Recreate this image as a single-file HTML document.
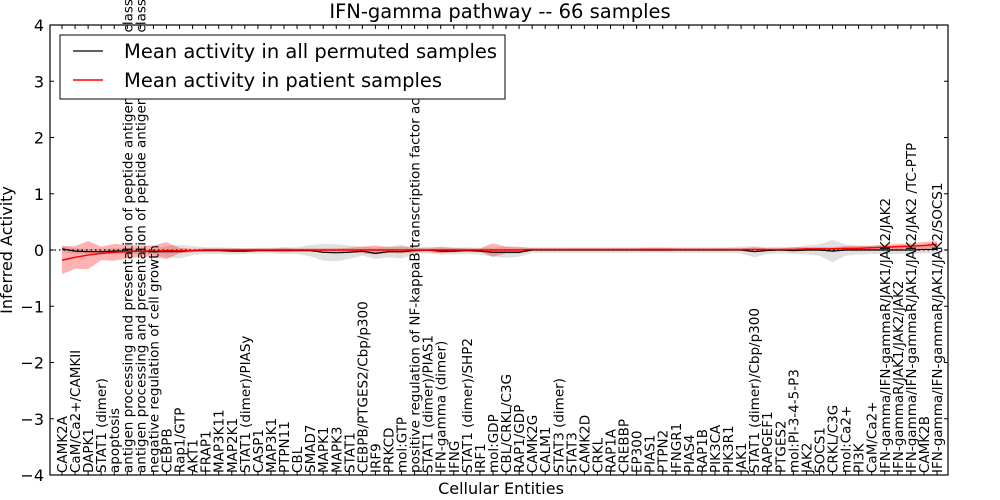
<!DOCTYPE html>
<html><head><meta charset="utf-8"><style>
html,body{margin:0;padding:0;background:#fff;}
svg{display:block;font-family:"DejaVu Sans","Liberation Sans",sans-serif;}
</style></head><body>
<svg id="chart" width="1000" height="500" viewBox="0 0 1000 500">
<text x="500" y="18" text-anchor="middle" font-size="19.5">IFN-gamma pathway -- 66 samples</text>
<text x="501" y="494" text-anchor="middle" font-size="16">Cellular Entities</text>
<text transform="translate(12,250) rotate(-90)" text-anchor="middle" font-size="16">Inferred Activity</text>
<g id="plot"></g>
</svg>
<script>
const labels=["CAMK2A","CaM/Ca2+/CAMKII","DAPK1","STAT1 (dimer)","apoptosis","antigen processing and presentation of peptide antigen via MHC class I","antigen processing and presentation of peptide antigen via MHC class II","negative regulation of cell growth","CEBPB","Rap1/GTP","AKT1","FRAP1","MAP3K11","MAP2K1","STAT1 (dimer)/PIASy","CASP1","MAP3K1","PTPN11","CBL","SMAD7","MAPK1","MAPK3","STAT1","CEBPB/PTGES2/Cbp/p300","IRF9","PRKCD","mol:GTP","positive regulation of NF-kappaB transcription factor activity","STAT1 (dimer)/PIAS1","IFN-gamma (dimer)","IFNG","STAT1 (dimer)/SHP2","IRF1","mol:GDP","CBL/CRKL/C3G","RAP1/GDP","CAMK2G","CALM1","STAT3 (dimer)","STAT3","CAMK2D","CRKL","RAP1A","CREBBP","EP300","PIAS1","PTPN2","IFNGR1","PIAS4","RAP1B","PIK3CA","PIK3R1","JAK1","STAT1 (dimer)/Cbp/p300","RAPGEF1","PTGES2","mol:PI-3-4-5-P3","JAK2","SOCS1","CRKL/C3G","mol:Ca2+","PI3K","CaM/Ca2+","IFN-gamma/IFN-gammaR/JAK1/JAK2/JAK2","IFN-gammaR/JAK1/JAK2/JAK2","IFN-gamma/IFN-gammaR/JAK1/JAK2/JAK2  /TC-PTP","CAMK2B","IFN-gamma/IFN-gammaR/JAK1/JAK2/SOCS1"];
const patientMean=[-0.18,-0.13,-0.09,-0.06,-0.04,-0.03,-0.02,-0.02,-0.01,-0.01,-0.01,0,0,0,0,0,0,0,0,0,0,0,0,0,0,0,0,0,0,0,0,0,0,0,0,0,0.01,0.01,0.01,0.01,0.01,0.01,0.01,0.01,0.01,0.01,0.01,0.01,0.01,0.01,0.01,0.01,0.01,0.01,0.01,0.01,0.01,0.02,0.02,0.02,0.03,0.03,0.04,0.05,0.06,0.07,0.08,0.1];
const patientBand=[0.25,0.2,0.25,0.12,0.15,0.12,0.1,0.1,0.15,0.05,0.03,0.03,0.03,0.03,0.03,0.03,0.03,0.04,0.03,0.03,0.03,0.03,0.04,0.06,0.08,0.05,0.06,0.04,0.03,0.06,0.04,0.03,0.03,0.12,0.06,0.06,0.02,0.02,0.02,0.02,0.02,0.02,0.02,0.02,0.02,0.03,0.03,0.02,0.02,0.02,0.02,0.02,0.02,0.04,0.02,0.02,0.04,0.03,0.03,0.03,0.04,0.04,0.04,0.05,0.05,0.05,0.06,0.06];
const permMean=[0.02,-0.02,-0.03,-0.03,-0.02,-0.02,-0.02,-0.03,-0.03,-0.03,-0.01,-0.01,-0.01,-0.02,-0.02,-0.01,-0.01,-0.01,-0.01,-0.01,-0.04,-0.05,-0.04,-0.02,-0.06,-0.03,-0.03,-0.01,0,-0.02,-0.02,-0.01,-0.02,-0.04,-0.04,-0.04,0,0,0,0,0,0,0,0,0,0,0,0,0,0,0,0,0,-0.03,-0.01,0,-0.01,0,0,-0.02,0,0,0,0,0,0,0.01,0.01];
const permBand=[0.06,0.05,0.05,0.05,0.05,0.05,0.05,0.05,0.1,0.12,0.08,0.06,0.06,0.06,0.05,0.05,0.05,0.06,0.06,0.1,0.15,0.15,0.12,0.08,0.1,0.1,0.12,0.06,0.06,0.06,0.06,0.06,0.06,0.08,0.1,0.08,0.05,0.05,0.05,0.05,0.05,0.05,0.05,0.05,0.05,0.05,0.05,0.05,0.05,0.05,0.05,0.05,0.06,0.1,0.06,0.06,0.06,0.08,0.1,0.2,0.1,0.08,0.07,0.07,0.07,0.07,0.07,0.07];
const yTicks=[4,3,2,1,0,-1,-2,-3,-4];
const tickLabels=["4","3","2","1","0","\u22121","\u22122","\u22123","\u22124"];

const L=50,R=948,T=25,B=475;
const X0=62,DX=(937-62)/(labels.length-1);
const xs=i=>X0+i*DX;
const ys=v=>250-v*(B-T)/8;
const NS="http://www.w3.org/2000/svg";
const g=document.getElementById('plot');
function mk(tag,attrs){const e=document.createElementNS(NS,tag);for(const k in attrs)e.setAttribute(k,attrs[k]);g.appendChild(e);return e;}
function band(mean,half){let up=mean.map((m,i)=>xs(i)+','+ys(m+half[i]));let dn=mean.map((m,i)=>xs(i)+','+ys(m-half[i])).reverse();return up.concat(dn).join(' ');}
function line(mean){return mean.map((m,i)=>xs(i)+','+ys(m)).join(' ');}

let e;
e=mk('polygon',{points:band(permMean,permBand),fill:'#bbbbbb','fill-opacity':'0.45',stroke:'none'});


e=mk('polygon',{points:band(patientMean,patientBand),fill:'#ff0000','fill-opacity':'0.3',stroke:'none'});


e=mk('line',{x1:L,x2:R,y1:ys(0),y2:ys(0),stroke:'#000','stroke-dasharray':'1.5,3','stroke-width':1.2});


e=mk('polyline',{points:line(permMean),fill:'none',stroke:'#000','stroke-width':1.2});


e=mk('polyline',{points:line(patientMean),fill:'none',stroke:'#ff0000','stroke-width':1.5});



labels.forEach((t,i)=>{
  const x=xs(i);
  const tk=mk('line',{x1:x,x2:x,y1:T,y2:T+4,stroke:'#000'});
  
  
  const tb=mk('line',{x1:x,x2:x,y1:B,y2:B-4,stroke:'#000'});
  
  
  const tx=mk('text',{transform:`translate(${x+5},${B-2}) rotate(-90)`,'font-size':'13.5'});
  tx.textContent=t;
  
  
});
yTicks.forEach((v,i)=>{
  const y=ys(v);
  const a=mk('line',{x1:L,x2:L+4,y1:y,y2:y,stroke:'#000'});
  
  
  const b=mk('line',{x1:R,x2:R-4,y1:y,y2:y,stroke:'#000'});
  
  
  const tx=mk('text',{x:L-6,y:y+6,'text-anchor':'end','font-size':'16'});
  tx.textContent=tickLabels[i];
  
  
});
e=mk('rect',{x:L,y:T,width:R-L,height:B-T,fill:'none',stroke:'#000','stroke-width':1.2});



e=mk('rect',{x:60,y:35,width:445,height:64,fill:'#fff',stroke:'#000','stroke-width':1});


e=mk('line',{x1:73,x2:103,y1:51,y2:51,stroke:'#000','stroke-width':1.2});


e=mk('text',{x:124,y:58,'font-size':'19.5'});
e.textContent='Mean activity in all permuted samples';


e=mk('line',{x1:73,x2:103,y1:80,y2:80,stroke:'#ff0000','stroke-width':1.5});


e=mk('text',{x:124,y:87,'font-size':'19.5'});
e.textContent='Mean activity in patient samples';


</script>
</body></html>
